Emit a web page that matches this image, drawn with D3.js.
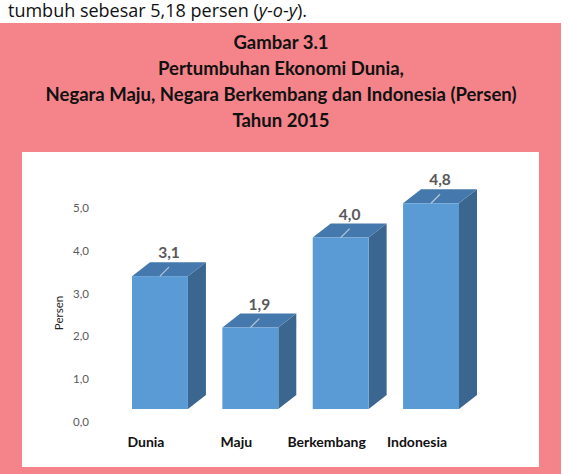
<!DOCTYPE html>
<html>
<head>
<meta charset="utf-8">
<script src="https://cdn.jsdelivr.net/npm/d3@7"></script>
<style>
  html, body { margin: 0; padding: 0; background: #fff; }
  svg { display: block; font-family: Lato, "Open Sans", sans-serif; }
</style>
</head>
<body>
<div id="chart"></div>
<script>
// data
const categories = ["Dunia", "Maju", "Berkembang", "Indonesia"];
const values = [3.1, 1.9, 4.0, 4.8];
const valueLabels = ["3,1", "1,9", "4,0", "4,8"];
const yTicks = [0, 1, 2, 3, 4, 5];
const titleLines = [
  "Gambar 3.1",
  "Pertumbuhan Ekonomi Dunia,",
  "Negara Maju, Negara Berkembang dan Indonesia (Persen)",
  "Tahun 2015"
];

const W = 568, H = 474;
const depth = { dx: 18, dy: -14, lift: 13 };
const colors = { front: "#5b9bd5", top: "#4579ad", side: "#3b6690", pink: "#f4848a" };

const svg = d3.select("#chart").append("svg").attr("width", W).attr("height", H);

// intro line from the page text
const intro = svg.append("text").attr("x", 8).attr("y", 17)
  .attr("font-family", "'Open Sans', sans-serif").attr("font-size", 18).attr("fill", "#111");
intro.append("tspan").text("tumbuh sebesar 5,18 persen (");
intro.append("tspan").attr("font-style", "italic").text("y");
intro.append("tspan").text("-");
intro.append("tspan").attr("font-style", "italic").text("o");
intro.append("tspan").text("-");
intro.append("tspan").attr("font-style", "italic").text("y");
intro.append("tspan").text(").");

// frame
svg.append("rect").attr("x", 0).attr("y", 23).attr("width", 561).attr("height", H - 23).attr("fill", colors.pink);
svg.append("rect").attr("x", 22).attr("y", 152).attr("width", 517).attr("height", 315).attr("fill", "#fff");

svg.append("g").selectAll("text").data(titleLines).join("text")
  .attr("x", 281).attr("y", (d, i) => 49 + i * 26)
  .attr("text-anchor", "middle").attr("font-weight", 700).attr("font-size", 18.5)
  .attr("fill", "#111").text(d => d);

// scales
const x = d3.scaleBand().domain(categories).range([132, 459]).paddingInner(0.381).paddingOuter(0);
const y = d3.scaleLinear().domain([0, 5]).range([422, 207.7]);

// y axis (labels only)
const yAxis = svg.append("g").attr("transform", "translate(89,0)")
  .call(d3.axisLeft(y).tickValues(yTicks).tickSize(0).tickPadding(0)
    .tickFormat(d => d3.format(".1f")(d).replace(".", ",")));
yAxis.select(".domain").remove();
yAxis.selectAll("text").attr("font-family", "Lato, sans-serif").attr("font-size", 11.5).attr("fill", "#595959");

svg.append("text").attr("transform", "translate(63,313) rotate(-90)")
  .attr("text-anchor", "middle").attr("font-size", 11.5).attr("fill", "#222").text("Persen");

// bars (pseudo 3D)
const bars = svg.append("g").selectAll("g").data(categories.map((c, i) => ({ c, v: values[i], lab: valueLabels[i] })))
  .join("g");

const fy = v => y(v) - depth.lift;

bars.append("path").attr("fill", colors.side)
  .attr("d", d => {
    const x1 = x(d.c) + x.bandwidth(), t = fy(d.v), b = fy(0);
    return `M${x1},${t}L${x1 + depth.dx},${t + depth.dy}L${x1 + depth.dx},${b + depth.dy}L${x1},${b}Z`;
  });
bars.append("path").attr("fill", colors.top)
  .attr("d", d => {
    const x0 = x(d.c), x1 = x0 + x.bandwidth(), t = fy(d.v);
    return `M${x0},${t}L${x0 + depth.dx},${t + depth.dy}L${x1 + depth.dx},${t + depth.dy}L${x1},${t}Z`;
  });
bars.append("rect").attr("fill", colors.front)
  .attr("x", d => x(d.c)).attr("width", x.bandwidth())
  .attr("y", d => fy(d.v)).attr("height", d => fy(0) - fy(d.v));

// leader lines and value labels
bars.append("line").attr("stroke", "#b8c8d8").attr("stroke-width", 1.2)
  .attr("x1", d => x(d.c) + x.bandwidth() / 2).attr("y1", d => fy(d.v))
  .attr("x2", d => x(d.c) + x.bandwidth() / 2 + 9).attr("y2", d => fy(d.v) - 9);
bars.append("text").attr("text-anchor", "middle")
  .attr("x", d => x(d.c) + x.bandwidth() / 2 + 9).attr("y", d => fy(d.v) - 18)
  .attr("font-size", 15.5).attr("font-weight", 700).attr("fill", "#595959").text(d => d.lab);

// category labels
svg.append("g").selectAll("text").data(categories).join("text")
  .attr("x", d => x(d) + x.bandwidth() / 2 - 14).attr("y", 447)
  .attr("text-anchor", "middle").attr("font-size", 14).attr("font-weight", 700)
  .attr("fill", "#111").text(d => d);
</script>
</body>
</html>
